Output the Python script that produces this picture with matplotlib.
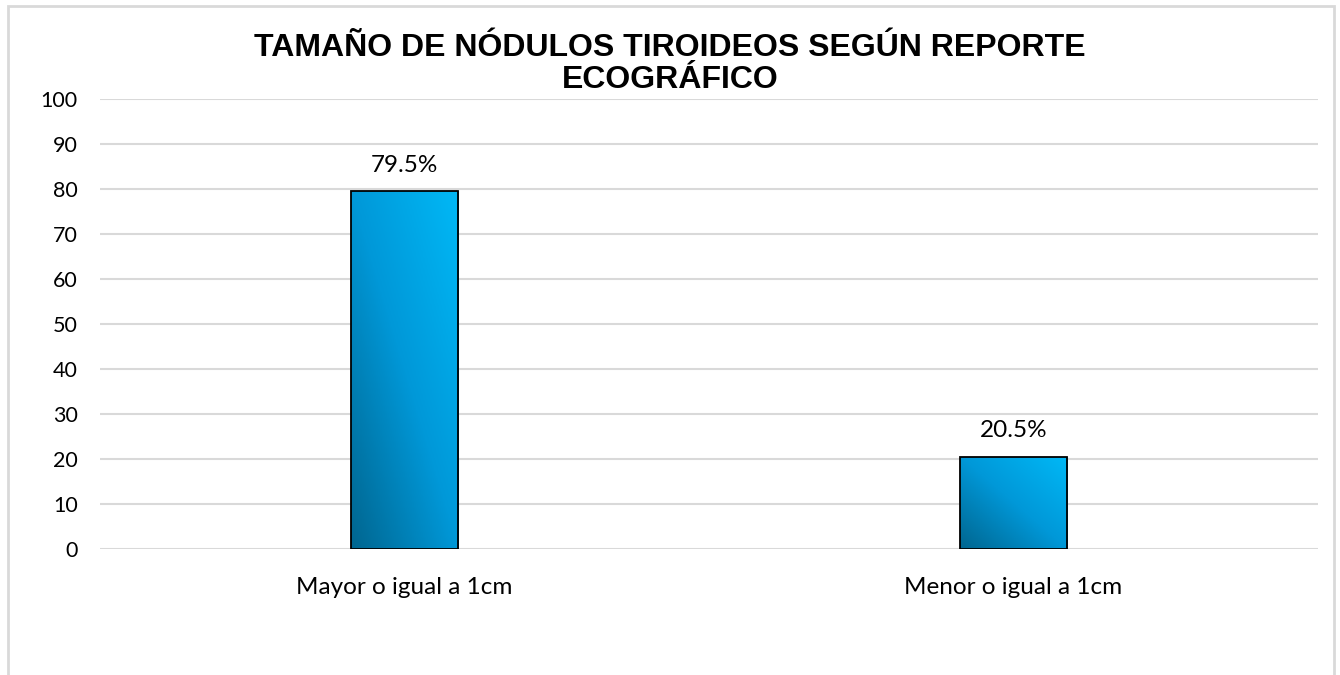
import numpy as np
import matplotlib.pyplot as plt
from matplotlib.patches import Rectangle
from matplotlib.colors import LinearSegmentedColormap

categorias = ["Mayor o igual a 1cm", "Menor o igual a 1cm"]
valores = [79.5, 20.5]
etiquetas = ["79.5%", "20.5%"]
yticks = list(range(0, 101, 10))

W, H = 1340, 675
fig = plt.figure(figsize=(W / 100, H / 100), dpi=100)
ax = fig.add_axes([100 / W, 1 - 549 / H, 1218 / W, 450 / H])

# marco exterior (sin borde inferior visible)
fig.patches.append(Rectangle((8 / W, -0.05), (1334 - 8) / W, (H - 6) / H + 0.05,
                             transform=fig.transFigure, fill=False,
                             edgecolor="#d9d9d9", linewidth=2))

ax.set_ylim(0, 100)
ax.set_yticks(yticks)
ax.grid(axis="y", color="#d9d9d9", linewidth=1.5)
ax.set_axisbelow(True)
for s in ax.spines.values():
    s.set_visible(False)
ax.tick_params(length=0)
ax.tick_params(axis="y", labelsize=15.5, pad=16)
ax.tick_params(axis="x", pad=20)
for lab in ax.get_yticklabels():
    lab.set_fontfamily("Lato")
ax.set_xticks(range(len(categorias)))
ax.set_xticklabels(categorias, fontsize=17.5, family="Lato")

cmap = LinearSegmentedColormap.from_list("azul", ["#006690", "#0098d8", "#00b8f6"])
lin = np.linspace(0, 1, 60)
grad = np.add.outer(lin, lin) / 2
ancho = 0.176
bars = ax.bar(range(len(valores)), valores, width=ancho, color="none",
              edgecolor="black", linewidth=1.3, zorder=3)
for b, txt in zip(bars, etiquetas):
    x0, y0 = b.get_x(), b.get_y()
    w, h = b.get_width(), b.get_height()
    im = ax.imshow(grad, cmap=cmap, extent=[x0, x0 + w, y0, y0 + h],
                   aspect="auto", origin="lower", zorder=2)
    im.set_clip_path(Rectangle((x0, y0), w, h, transform=ax.transData))
    ax.text(x0 + w / 2, h + 3.5, txt, ha="center", va="bottom",
            fontsize=17.5, family="Lato")
ax.set_xlim(-0.5, 1.5)
ax.set_ylim(0, 100)

fig.text(670 / W, 1 - 64 / H, "TAMAÑO DE NÓDULOS TIROIDEOS SEGÚN REPORTE\nECOGRÁFICO",
         ha="center", va="center", fontsize=23, fontweight="bold",
         family="Liberation Sans", linespacing=1.12)

fig.savefig("out.png", dpi=100)
